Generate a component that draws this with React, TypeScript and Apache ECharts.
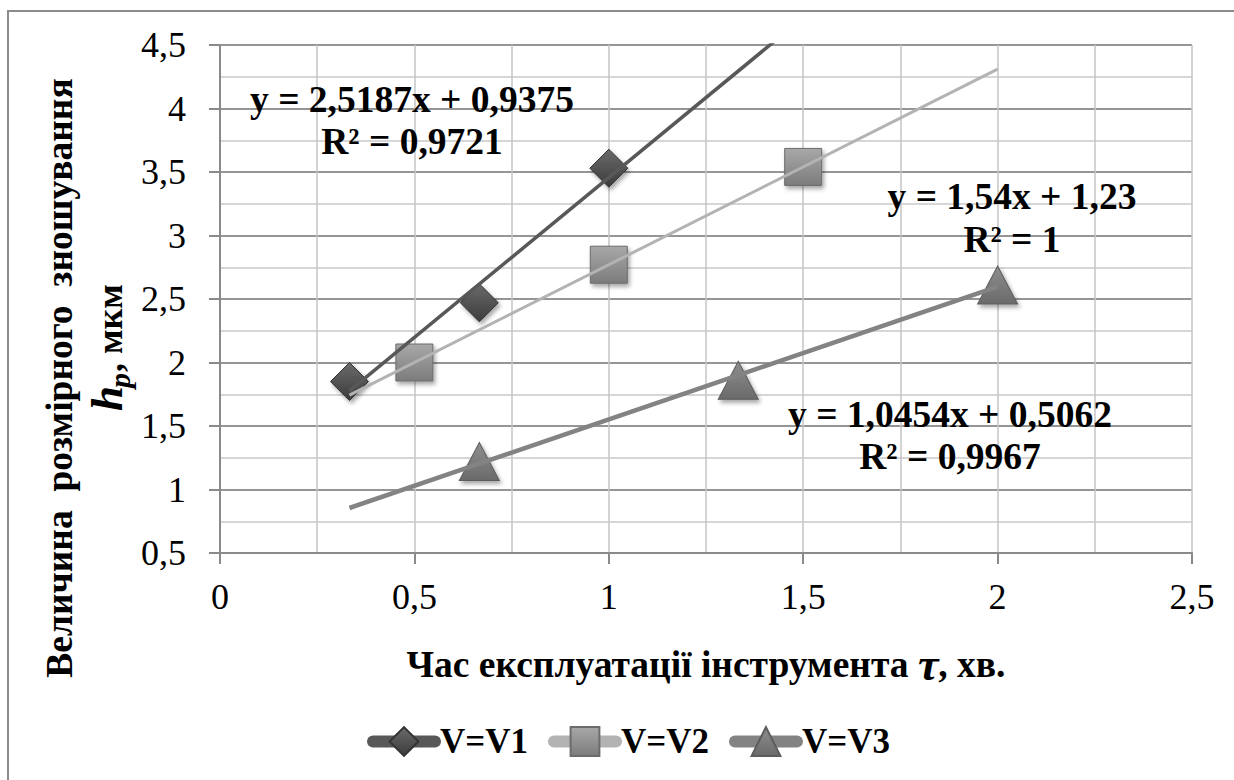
import React, { useEffect, useRef } from "react";
import * as echarts from "echarts";

// ---- data ----
const seriesNames = ["V=V1", "V=V2", "V=V3"];
const xV1 = [0.333, 0.667, 1];
const yV1 = [1.85, 2.47, 3.53];
const xV2 = [0.5, 1, 1.5];
const yV2 = [2.0, 2.77, 3.54];
const xV3 = [0.667, 1.333, 2];
const yV3 = [1.22, 1.86, 2.61];

// linear trendlines shown on the chart (y = a x + b)
const trendSlopes = [2.5187, 1.54, 1.0454];
const trendIntercepts = [0.9375, 1.23, 0.5062];
const trendFrom = [0.333, 0.333, 0.333];
const trendTo = [2, 2, 2];
const trendEquations = ["y = 2,5187x + 0,9375", "y = 1,54x + 1,23", "y = 1,0454x + 0,5062"];
const trendR2 = ["R² = 0,9721", "R² = 1", "R² = 0,9967"];

// axes
const xMin = 0, xMax = 2.5, xStep = 0.5;
const yMin = 0.5, yMax = 4.5, yStep = 0.5;

const FONT = "Liberation Serif";
const BIG = 37.5;

const markerSymbols = ["diamond", "rect", "triangle"];
const markerSizes: any[] = [[38, 38], [37, 37], [40, 38]];
const markerTop = ["#6a6a6a", "#a8a8a8", "#8e8e8e"];
const markerBottom = ["#3c3c3c", "#7c7c7c", "#6a6a6a"];
const markerBorder = ["#333333", "#6c6c6c", "#5c5c5c"];
const lineColors = ["#585858", "#b3b3b3", "#838383"];
const lineWidths = [3.5, 3, 4.5];

const labelCenters = [
  [412, 99, 141],
  [1012, 196, 239],
  [950, 414, 456],
];

export default function App() {
  const ref = useRef<HTMLDivElement>(null);

  useEffect(() => {
    if (!ref.current) return;
    const chart = echarts.init(ref.current, null, { renderer: "svg" });
    const xs = [xV1, xV2, xV3];
    const ys = [yV1, yV2, yV3];
    const fmt = (v: number) => String(v).replace(".", ",");

    const dataSeries = seriesNames.map((name, i) => ({
      name,
      type: "line",
      data: xs[i].map((x, k) => [x, ys[i][k]]),
      symbol: markerSymbols[i],
      symbolSize: markerSizes[i],
      showSymbol: true,
      lineStyle: { width: 0, opacity: 0 },
      itemStyle: {
        color: new echarts.graphic.LinearGradient(0, 0, 0, 1, [
          { offset: 0, color: markerTop[i] },
          { offset: 1, color: markerBottom[i] },
        ]),
        borderColor: markerBorder[i],
        borderWidth: 1,
        shadowBlur: 4,
        shadowOffsetX: 2,
        shadowOffsetY: 3,
        shadowColor: "rgba(0,0,0,0.35)",
      },
      z: 3,
      silent: true,
    }));

    const trendSeries = seriesNames.map((name, i) => ({
      name: name + " trend",
      type: "line",
      data: [trendFrom[i], trendTo[i]].map((x) => [x, trendSlopes[i] * x + trendIntercepts[i]]),
      showSymbol: false,
      symbol: "none",
      lineStyle: { color: lineColors[i], width: lineWidths[i] },
      clip: true,
      z: 4,
      silent: true,
    }));

    const txt = (extra: any) => ({ fontFamily: FONT, fontWeight: "bold", fill: "#000", ...extra });

    const graphics: any[] = [
      {
        type: "rect",
        shape: { x: 8, y: 11, width: 1240, height: 790 },
        style: { fill: "none", stroke: "#8c8c8c", lineWidth: 2 },
        silent: true,
        z: -10,
      },
      {
        type: "text",
        x: 59,
        y: 378,
        rotation: Math.PI / 2,
        style: txt({
          text: "Величина  розмірного  зношування",
          fontSize: BIG,
          align: "center",
          verticalAlign: "middle",
        }),
      },
      {
        type: "group",
        x: 122,
        y: 411,
        rotation: Math.PI / 2,
        children: [
          {
            type: "text",
            x: 0,
            y: -15,
            style: txt({ text: "h", fontSize: 45, fontStyle: "italic", align: "left", verticalAlign: "middle" }),
          },
          {
            type: "text",
            x: 23,
            y: -3,
            style: txt({ text: "p", fontSize: 30, fontStyle: "italic", align: "left", verticalAlign: "middle" }),
          },
          {
            type: "text",
            x: 39,
            y: -12,
            style: txt({ text: ", мкм", fontSize: 36, align: "left", verticalAlign: "middle" }),
          },
        ],
      },
    ];
    labelCenters.forEach((c, i) => {
      graphics.push({
        type: "text",
        x: c[0],
        y: c[1],
        z: 10,
        style: txt({ text: trendEquations[i], fontSize: BIG, align: "center", verticalAlign: "middle" }),
      });
      graphics.push({
        type: "text",
        x: c[0],
        y: c[2],
        z: 10,
        style: txt({ text: trendR2[i], fontSize: BIG, align: "center", verticalAlign: "middle" }),
      });
    });

    chart.setOption({
      animation: false,
      backgroundColor: "#ffffff",
      textStyle: { fontFamily: FONT },
      grid: { left: 220, right: 42, top: 45, bottom: 227, containLabel: false },
      xAxis: {
        type: "value",
        min: xMin,
        max: xMax,
        interval: xStep,
        name: "{a|Час експлуатації інструмента }{t|τ}{a|, хв.}",
        nameLocation: "middle",
        nameGap: 88,
        nameTextStyle: {
          fontFamily: FONT,
          rich: {
            a: { fontFamily: FONT, fontSize: BIG, fontWeight: "bold", color: "#000" },
            t: { fontFamily: FONT, fontSize: 46, fontWeight: "bold", fontStyle: "italic", color: "#000" },
          },
        },
        axisLine: { show: true, onZero: false, lineStyle: { color: "#8a8a8a", width: 2 } },
        axisTick: { show: true, length: 11, lineStyle: { color: "#8a8a8a", width: 2 } },
        axisLabel: { formatter: fmt, fontFamily: FONT, fontSize: 36, color: "#000", margin: 26 },
        splitLine: { show: true, lineStyle: { color: "#c4c4c4", width: 1.5 } },
        minorTick: { show: false, splitNumber: 2 },
        minorSplitLine: { show: true, lineStyle: { color: "#c4c4c4", width: 1.5 } },
      },
      yAxis: {
        type: "value",
        min: yMin,
        max: yMax,
        interval: yStep,
        axisLine: { show: true, onZero: false, lineStyle: { color: "#8a8a8a", width: 2 } },
        axisTick: { show: true, length: 11, lineStyle: { color: "#8a8a8a", width: 2 } },
        axisLabel: { formatter: fmt, fontFamily: FONT, fontSize: 36, color: "#000", margin: 34 },
        splitLine: { show: true, lineStyle: { color: "#959595", width: 2 } },
        minorTick: { show: false, splitNumber: 2 },
        minorSplitLine: { show: true, lineStyle: { color: "#c8c8c8", width: 1.5 } },
      },
      legend: {
        left: 367,
        top: 724,
        padding: 0,
        itemWidth: 62,
        itemHeight: 36,
        itemGap: 20,
        selectedMode: false,
        textStyle: { fontFamily: FONT, fontSize: 35, fontWeight: "bold", color: "#000" },
        data: seriesNames.map((name, i) => ({
          name,
          lineStyle: { color: lineColors[i], width: 12, cap: "round", opacity: 1 },
        })),
      },
      graphic: graphics,
      series: [...dataSeries, ...trendSeries],
    });

    return () => chart.dispose();
  }, []);

  return (
    <div
      ref={ref}
      style={{ position: "fixed", left: 0, top: 0, width: 1234, height: 780, background: "#fff" }}
    />
  );
}
